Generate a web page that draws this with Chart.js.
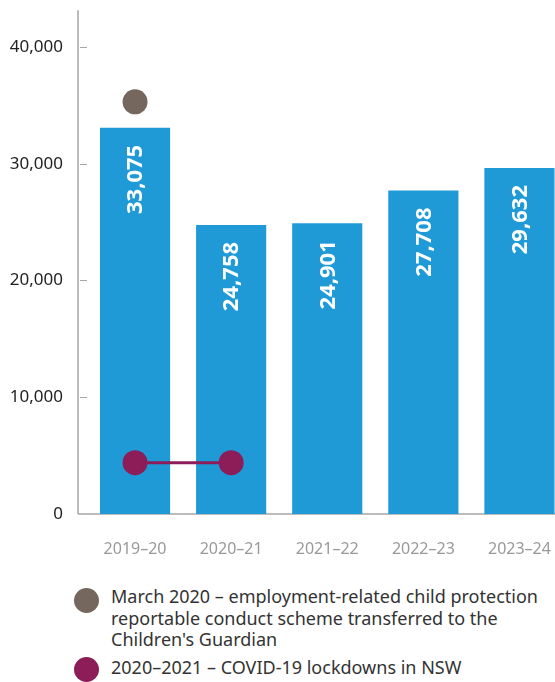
<!DOCTYPE html>
<html>
<head>
<meta charset="utf-8">
<script src="https://cdn.jsdelivr.net/npm/chart.js@4/dist/chart.umd.min.js"></script>
<style>
  html, body { margin: 0; padding: 0; background: #fff; overflow: hidden; width: 555px; height: 682px; }
  #wrap { position: absolute; left: 0; top: -24px; width: 580px; height: 594px; }
  .leg { position: absolute; font-family: "Noto Sans", sans-serif; font-size: 18px; line-height: 21.5px; color: #333; left: 111px; white-space: nowrap; }
  .dot { position: absolute; width: 25px; height: 25px; border-radius: 50%; }
</style>
</head>
<body>
<div id="wrap"><canvas id="c" width="580" height="594"></canvas></div>
<div class="dot" style="left:74px; top:588px; background:#75675e;"></div>
<div class="leg" style="top:586px;">March 2020 – employment-related child protection<br>reportable conduct scheme transferred to the<br>Children's Guardian</div>
<div class="dot" style="left:74px; top:657px; background:#8c1d59;"></div>
<div class="leg" style="top:657px;">2020–2021 – COVID-19 lockdowns in NSW</div>
<script>
const categories = ["2019–20", "2020–21", "2021–22", "2022–23", "2023–24"];
const reports = [33075, 24758, 24901, 27708, 29632];
const schemeMarker = [35300, null, null, null, null];
const covidMarker = [4400, 4400, null, null, null];
const yTicks = [0, 10000, 20000, 30000, 40000];

const FONT = '"Noto Sans", sans-serif';
const fmt = v => v.toLocaleString('en-US');

const axisPlugin = {
  id: 'axisPlugin',
  beforeDatasetsDraw(chart) {
    const ctx = chart.ctx;
    const ca = chart.chartArea;
    const y = chart.scales.y;
    ctx.save();
    ctx.strokeStyle = '#a6a6a6';
    ctx.lineWidth = 1.5;
    ctx.beginPath();
    ctx.moveTo(78, ca.top);
    ctx.lineTo(78, ca.bottom);
    ctx.moveTo(78, ca.bottom);
    ctx.lineTo(chart.width, ca.bottom);
    ctx.stroke();
    ctx.lineWidth = 1;
    ctx.beginPath();
    yTicks.forEach(v => {
      if (v === 0) return;
      const py = Math.round(y.getPixelForValue(v)) + 0.5;
      ctx.moveTo(80, py);
      ctx.lineTo(87, py);
    });
    ctx.stroke();
    ctx.restore();
  },
  afterDatasetsDraw(chart) {
    const ctx = chart.ctx;
    const meta = chart.getDatasetMeta(0);
    ctx.save();
    ctx.fillStyle = '#ffffff';
    ctx.font = 'bold 22px ' + FONT;
    ctx.textAlign = 'right';
    ctx.textBaseline = 'middle';
    meta.data.forEach((bar, i) => {
      ctx.save();
      ctx.translate(bar.x, bar.y + 17);
      ctx.rotate(-Math.PI / 2);
      ctx.fillText(fmt(reports[i]), 0, 1);
      ctx.restore();
    });
    ctx.restore();
  }
};

new Chart(document.getElementById('c'), {
  data: {
    labels: categories,
    datasets: [
      { type: 'bar', data: reports, backgroundColor: '#1f9ad6', barPercentage: 0.73, categoryPercentage: 1, order: 3 },
      { type: 'line', data: covidMarker, borderColor: '#8c1d59', backgroundColor: '#8c1d59', borderWidth: 3, pointRadius: 12.5, pointHoverRadius: 12.5, pointBorderWidth: 0, spanGaps: false, order: 1 },
      { type: 'line', data: schemeMarker, borderColor: '#75675e', backgroundColor: '#75675e', borderWidth: 0, showLine: false, pointRadius: 12.5, pointHoverRadius: 12.5, pointBorderWidth: 0, order: 1 }
    ]
  },
  options: {
    responsive: false,
    devicePixelRatio: 1,
    animation: false,
    layout: { padding: { top: 0, right: 0, left: 0, bottom: 0 } },
    plugins: { legend: { display: false }, tooltip: { enabled: false } },
    scales: {
      x: {
        type: 'category',
        offset: true,
        grid: { display: false, drawTicks: false },
        border: { display: false },
        ticks: { color: '#999999', font: { family: FONT, size: 16 }, padding: 26, maxRotation: 0, autoSkip: false },
        afterFit(s) { s.height = 56; }
      },
      y: {
        min: 0,
        max: 43150,
        grid: { display: false, drawTicks: false },
        border: { display: false },
        ticks: { color: '#222222', font: { family: FONT, size: 17 }, padding: 24, stepSize: 10000, callback: v => fmt(v) },
        afterBuildTicks(s) { s.ticks = yTicks.map(v => ({ value: v })); },
        afterFit(s) { s.width = 87; }
      }
    }
  },
  plugins: [axisPlugin]
});
</script>
</body>
</html>
